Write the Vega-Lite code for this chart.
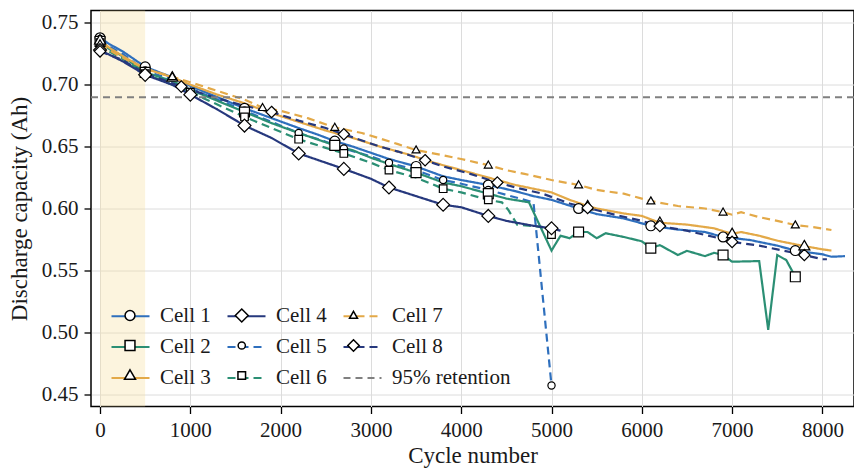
{
  "$schema": "https://vega.github.io/schema/vega-lite/v6.json",
  "width": 763,
  "height": 396,
  "autosize": "none",
  "padding": {"left": 91, "top": 10.5, "right": 0, "bottom": 63.5},
  "background": "white",
  "config": {
    "font": "Liberation Serif",
    "view": {"stroke": "black", "strokeWidth": 1.5},
    "axis": {
      "domain": false, "grid": true, "gridColor": "#dcdcdc", "gridWidth": 1,
      "tickColor": "black", "tickWidth": 1.3, "tickSize": 7,
      "labelFont": "Liberation Serif", "labelFontSize": 21, "labelColor": "#1a1a1a",
      "titleFont": "Liberation Serif", "titleFontSize": 23, "titleFontWeight": "normal", "titleColor": "#1a1a1a",
      "labelPadding": 6
    }
  },
  "datasets": {
    "cells": [
      {"cell":"Cell 1","cycle":0,"cap":0.738,"m":1},{"cell":"Cell 1","cycle":100,"cap":0.733},{"cell":"Cell 1","cycle":250,"cap":0.727},{"cell":"Cell 1","cycle":500,"cap":0.7145,"m":1},{"cell":"Cell 1","cycle":800,"cap":0.706},{"cell":"Cell 1","cycle":1000,"cap":0.699},{"cell":"Cell 1","cycle":1300,"cap":0.690},{"cell":"Cell 1","cycle":1600,"cap":0.681,"m":1},{"cell":"Cell 1","cycle":1900,"cap":0.673},{"cell":"Cell 1","cycle":2200,"cap":0.665},{"cell":"Cell 1","cycle":2400,"cap":0.660},{"cell":"Cell 1","cycle":2600,"cap":0.6545,"m":1},{"cell":"Cell 1","cycle":2800,"cap":0.650},{"cell":"Cell 1","cycle":3000,"cap":0.645},{"cell":"Cell 1","cycle":3200,"cap":0.640},{"cell":"Cell 1","cycle":3500,"cap":0.634,"m":1},{"cell":"Cell 1","cycle":3800,"cap":0.626},{"cell":"Cell 1","cycle":4000,"cap":0.623},{"cell":"Cell 1","cycle":4300,"cap":0.619,"m":1},{"cell":"Cell 1","cycle":4600,"cap":0.614},{"cell":"Cell 1","cycle":4800,"cap":0.610},{"cell":"Cell 1","cycle":5000,"cap":0.607},{"cell":"Cell 1","cycle":5300,"cap":0.600,"m":1},{"cell":"Cell 1","cycle":5500,"cap":0.5955},{"cell":"Cell 1","cycle":5800,"cap":0.592},{"cell":"Cell 1","cycle":6100,"cap":0.586,"m":1},{"cell":"Cell 1","cycle":6400,"cap":0.583},{"cell":"Cell 1","cycle":6700,"cap":0.581},{"cell":"Cell 1","cycle":6900,"cap":0.577,"m":1},{"cell":"Cell 1","cycle":7200,"cap":0.5745},{"cell":"Cell 1","cycle":7500,"cap":0.570},{"cell":"Cell 1","cycle":7700,"cap":0.566,"m":1},{"cell":"Cell 1","cycle":8000,"cap":0.563},{"cell":"Cell 1","cycle":8100,"cap":0.561},{"cell":"Cell 1","cycle":8250,"cap":0.5615},

      {"cell":"Cell 5","cycle":0,"cap":0.737,"m":1},{"cell":"Cell 5","cycle":100,"cap":0.731},{"cell":"Cell 5","cycle":250,"cap":0.725},{"cell":"Cell 5","cycle":500,"cap":0.7115,"m":1},{"cell":"Cell 5","cycle":800,"cap":0.704},{"cell":"Cell 5","cycle":1000,"cap":0.697},{"cell":"Cell 5","cycle":1300,"cap":0.688},{"cell":"Cell 5","cycle":1600,"cap":0.679,"m":1},{"cell":"Cell 5","cycle":1900,"cap":0.670},{"cell":"Cell 5","cycle":2200,"cap":0.661,"m":1},{"cell":"Cell 5","cycle":2500,"cap":0.654},{"cell":"Cell 5","cycle":2700,"cap":0.6485,"m":1},{"cell":"Cell 5","cycle":3000,"cap":0.642},{"cell":"Cell 5","cycle":3200,"cap":0.637,"m":1},{"cell":"Cell 5","cycle":3500,"cap":0.631},{"cell":"Cell 5","cycle":3800,"cap":0.623,"m":1},{"cell":"Cell 5","cycle":4000,"cap":0.620},{"cell":"Cell 5","cycle":4300,"cap":0.615,"m":1},{"cell":"Cell 5","cycle":4500,"cap":0.611},{"cell":"Cell 5","cycle":4800,"cap":0.605},{"cell":"Cell 5","cycle":5000,"cap":0.457,"m":1},

      {"cell":"Cell 2","cycle":0,"cap":0.735,"m":1},{"cell":"Cell 2","cycle":100,"cap":0.729},{"cell":"Cell 2","cycle":250,"cap":0.723},{"cell":"Cell 2","cycle":500,"cap":0.710,"m":1},{"cell":"Cell 2","cycle":800,"cap":0.703},{"cell":"Cell 2","cycle":1000,"cap":0.696},{"cell":"Cell 2","cycle":1300,"cap":0.687},{"cell":"Cell 2","cycle":1600,"cap":0.678,"m":1},{"cell":"Cell 2","cycle":1900,"cap":0.669},{"cell":"Cell 2","cycle":2200,"cap":0.661},{"cell":"Cell 2","cycle":2400,"cap":0.656},{"cell":"Cell 2","cycle":2600,"cap":0.651,"m":1},{"cell":"Cell 2","cycle":2800,"cap":0.647},{"cell":"Cell 2","cycle":3000,"cap":0.641},{"cell":"Cell 2","cycle":3200,"cap":0.636},{"cell":"Cell 2","cycle":3500,"cap":0.629,"m":1},{"cell":"Cell 2","cycle":3800,"cap":0.621},{"cell":"Cell 2","cycle":4000,"cap":0.618},{"cell":"Cell 2","cycle":4300,"cap":0.612,"m":1},{"cell":"Cell 2","cycle":4500,"cap":0.608},{"cell":"Cell 2","cycle":4750,"cap":0.605},{"cell":"Cell 2","cycle":5000,"cap":0.566},{"cell":"Cell 2","cycle":5100,"cap":0.578},{"cell":"Cell 2","cycle":5200,"cap":0.576},{"cell":"Cell 2","cycle":5300,"cap":0.581,"m":1},{"cell":"Cell 2","cycle":5400,"cap":0.581},{"cell":"Cell 2","cycle":5500,"cap":0.576},{"cell":"Cell 2","cycle":5600,"cap":0.580},{"cell":"Cell 2","cycle":5800,"cap":0.577},{"cell":"Cell 2","cycle":6000,"cap":0.5735},{"cell":"Cell 2","cycle":6100,"cap":0.568,"m":1},{"cell":"Cell 2","cycle":6200,"cap":0.5704},{"cell":"Cell 2","cycle":6400,"cap":0.5624},{"cell":"Cell 2","cycle":6500,"cap":0.5658},{"cell":"Cell 2","cycle":6700,"cap":0.5615},{"cell":"Cell 2","cycle":6800,"cap":0.5642},{"cell":"Cell 2","cycle":6900,"cap":0.5624,"m":1},{"cell":"Cell 2","cycle":7000,"cap":0.557},{"cell":"Cell 2","cycle":7300,"cap":0.5575},{"cell":"Cell 2","cycle":7400,"cap":0.502},{"cell":"Cell 2","cycle":7500,"cap":0.5624},{"cell":"Cell 2","cycle":7600,"cap":0.5583},{"cell":"Cell 2","cycle":7700,"cap":0.5448,"m":1},

      {"cell":"Cell 6","cycle":0,"cap":0.734,"m":1},{"cell":"Cell 6","cycle":100,"cap":0.727},{"cell":"Cell 6","cycle":250,"cap":0.721},{"cell":"Cell 6","cycle":500,"cap":0.709,"m":1},{"cell":"Cell 6","cycle":800,"cap":0.700},{"cell":"Cell 6","cycle":1000,"cap":0.694,"m":1},{"cell":"Cell 6","cycle":1300,"cap":0.684},{"cell":"Cell 6","cycle":1600,"cap":0.674,"m":1},{"cell":"Cell 6","cycle":1900,"cap":0.665},{"cell":"Cell 6","cycle":2200,"cap":0.656,"m":1},{"cell":"Cell 6","cycle":2500,"cap":0.649},{"cell":"Cell 6","cycle":2700,"cap":0.6445,"m":1},{"cell":"Cell 6","cycle":3000,"cap":0.637},{"cell":"Cell 6","cycle":3200,"cap":0.631,"m":1},{"cell":"Cell 6","cycle":3500,"cap":0.625},{"cell":"Cell 6","cycle":3800,"cap":0.616,"m":1},{"cell":"Cell 6","cycle":4000,"cap":0.613},{"cell":"Cell 6","cycle":4300,"cap":0.607,"m":1},{"cell":"Cell 6","cycle":4450,"cap":0.605},{"cell":"Cell 6","cycle":4520,"cap":0.599},{"cell":"Cell 6","cycle":4620,"cap":0.587},{"cell":"Cell 6","cycle":4900,"cap":0.585},{"cell":"Cell 6","cycle":5000,"cap":0.579,"m":1},

      {"cell":"Cell 3","cycle":0,"cap":0.736,"m":1},{"cell":"Cell 3","cycle":100,"cap":0.730},{"cell":"Cell 3","cycle":300,"cap":0.721},{"cell":"Cell 3","cycle":500,"cap":0.713},{"cell":"Cell 3","cycle":800,"cap":0.706,"m":1},{"cell":"Cell 3","cycle":1000,"cap":0.700},{"cell":"Cell 3","cycle":1300,"cap":0.692},{"cell":"Cell 3","cycle":1600,"cap":0.685},{"cell":"Cell 3","cycle":1900,"cap":0.677},{"cell":"Cell 3","cycle":2200,"cap":0.670},{"cell":"Cell 3","cycle":2500,"cap":0.663},{"cell":"Cell 3","cycle":2800,"cap":0.657},{"cell":"Cell 3","cycle":3100,"cap":0.650},{"cell":"Cell 3","cycle":3400,"cap":0.644},{"cell":"Cell 3","cycle":3700,"cap":0.637},{"cell":"Cell 3","cycle":4000,"cap":0.631},{"cell":"Cell 3","cycle":4300,"cap":0.625},{"cell":"Cell 3","cycle":4600,"cap":0.619},{"cell":"Cell 3","cycle":5000,"cap":0.613},{"cell":"Cell 3","cycle":5200,"cap":0.607},{"cell":"Cell 3","cycle":5400,"cap":0.602,"m":1},{"cell":"Cell 3","cycle":5500,"cap":0.600},{"cell":"Cell 3","cycle":5800,"cap":0.596},{"cell":"Cell 3","cycle":6000,"cap":0.594},{"cell":"Cell 3","cycle":6200,"cap":0.5885,"m":1},{"cell":"Cell 3","cycle":6500,"cap":0.587},{"cell":"Cell 3","cycle":6800,"cap":0.584},{"cell":"Cell 3","cycle":7000,"cap":0.5795,"m":1},{"cell":"Cell 3","cycle":7100,"cap":0.581},{"cell":"Cell 3","cycle":7300,"cap":0.578},{"cell":"Cell 3","cycle":7500,"cap":0.574},{"cell":"Cell 3","cycle":7800,"cap":0.5696,"m":1},{"cell":"Cell 3","cycle":8000,"cap":0.567},{"cell":"Cell 3","cycle":8100,"cap":0.566},

      {"cell":"Cell 7","cycle":0,"cap":0.733,"m":1},{"cell":"Cell 7","cycle":100,"cap":0.728},{"cell":"Cell 7","cycle":300,"cap":0.720},{"cell":"Cell 7","cycle":500,"cap":0.713},{"cell":"Cell 7","cycle":800,"cap":0.7065,"m":1},{"cell":"Cell 7","cycle":1000,"cap":0.702},{"cell":"Cell 7","cycle":1300,"cap":0.695},{"cell":"Cell 7","cycle":1600,"cap":0.688},{"cell":"Cell 7","cycle":1800,"cap":0.6815,"m":1},{"cell":"Cell 7","cycle":2000,"cap":0.679},{"cell":"Cell 7","cycle":2300,"cap":0.673},{"cell":"Cell 7","cycle":2600,"cap":0.6655,"m":1},{"cell":"Cell 7","cycle":2900,"cap":0.661},{"cell":"Cell 7","cycle":3100,"cap":0.6566},{"cell":"Cell 7","cycle":3300,"cap":0.652},{"cell":"Cell 7","cycle":3500,"cap":0.6472,"m":1},{"cell":"Cell 7","cycle":3800,"cap":0.643},{"cell":"Cell 7","cycle":4000,"cap":0.640},{"cell":"Cell 7","cycle":4300,"cap":0.635,"m":1},{"cell":"Cell 7","cycle":4500,"cap":0.631},{"cell":"Cell 7","cycle":4700,"cap":0.628},{"cell":"Cell 7","cycle":5000,"cap":0.623},{"cell":"Cell 7","cycle":5300,"cap":0.619,"m":1},{"cell":"Cell 7","cycle":5500,"cap":0.615},{"cell":"Cell 7","cycle":5800,"cap":0.612},{"cell":"Cell 7","cycle":6100,"cap":0.606,"m":1},{"cell":"Cell 7","cycle":6400,"cap":0.602},{"cell":"Cell 7","cycle":6700,"cap":0.600},{"cell":"Cell 7","cycle":6900,"cap":0.597,"m":1},{"cell":"Cell 7","cycle":7000,"cap":0.595},{"cell":"Cell 7","cycle":7100,"cap":0.597},{"cell":"Cell 7","cycle":7300,"cap":0.593},{"cell":"Cell 7","cycle":7500,"cap":0.590},{"cell":"Cell 7","cycle":7700,"cap":0.5866,"m":1},{"cell":"Cell 7","cycle":7900,"cap":0.585},{"cell":"Cell 7","cycle":8100,"cap":0.5826},

      {"cell":"Cell 4","cycle":0,"cap":0.728,"m":1},{"cell":"Cell 4","cycle":250,"cap":0.719},{"cell":"Cell 4","cycle":500,"cap":0.708,"m":1},{"cell":"Cell 4","cycle":800,"cap":0.700},{"cell":"Cell 4","cycle":1000,"cap":0.692,"m":1},{"cell":"Cell 4","cycle":1300,"cap":0.680},{"cell":"Cell 4","cycle":1600,"cap":0.667,"m":1},{"cell":"Cell 4","cycle":1900,"cap":0.657},{"cell":"Cell 4","cycle":2200,"cap":0.6445,"m":1},{"cell":"Cell 4","cycle":2500,"cap":0.637},{"cell":"Cell 4","cycle":2700,"cap":0.632,"m":1},{"cell":"Cell 4","cycle":3000,"cap":0.624},{"cell":"Cell 4","cycle":3200,"cap":0.617,"m":1},{"cell":"Cell 4","cycle":3500,"cap":0.610},{"cell":"Cell 4","cycle":3800,"cap":0.603,"m":1},{"cell":"Cell 4","cycle":4000,"cap":0.601},{"cell":"Cell 4","cycle":4300,"cap":0.594,"m":1},{"cell":"Cell 4","cycle":4500,"cap":0.590},{"cell":"Cell 4","cycle":4800,"cap":0.586},{"cell":"Cell 4","cycle":5000,"cap":0.584,"m":1},{"cell":"Cell 4","cycle":5100,"cap":0.582},

      {"cell":"Cell 8","cycle":0,"cap":0.727,"m":1},{"cell":"Cell 8","cycle":250,"cap":0.720},{"cell":"Cell 8","cycle":500,"cap":0.709},{"cell":"Cell 8","cycle":700,"cap":0.704},{"cell":"Cell 8","cycle":900,"cap":0.6985,"m":1},{"cell":"Cell 8","cycle":1000,"cap":0.696},{"cell":"Cell 8","cycle":1300,"cap":0.689},{"cell":"Cell 8","cycle":1600,"cap":0.683},{"cell":"Cell 8","cycle":1900,"cap":0.678,"m":1},{"cell":"Cell 8","cycle":2200,"cap":0.671},{"cell":"Cell 8","cycle":2500,"cap":0.665},{"cell":"Cell 8","cycle":2700,"cap":0.660,"m":1},{"cell":"Cell 8","cycle":2900,"cap":0.655},{"cell":"Cell 8","cycle":3100,"cap":0.650},{"cell":"Cell 8","cycle":3300,"cap":0.646},{"cell":"Cell 8","cycle":3600,"cap":0.639,"m":1},{"cell":"Cell 8","cycle":3800,"cap":0.634},{"cell":"Cell 8","cycle":4100,"cap":0.628},{"cell":"Cell 8","cycle":4400,"cap":0.621,"m":1},{"cell":"Cell 8","cycle":4600,"cap":0.617},{"cell":"Cell 8","cycle":4900,"cap":0.612},{"cell":"Cell 8","cycle":5200,"cap":0.604},{"cell":"Cell 8","cycle":5400,"cap":0.6005,"m":1},{"cell":"Cell 8","cycle":5700,"cap":0.595},{"cell":"Cell 8","cycle":6000,"cap":0.590},{"cell":"Cell 8","cycle":6200,"cap":0.5858,"m":1},{"cell":"Cell 8","cycle":6500,"cap":0.582},{"cell":"Cell 8","cycle":6800,"cap":0.577},{"cell":"Cell 8","cycle":7000,"cap":0.573,"m":1},{"cell":"Cell 8","cycle":7300,"cap":0.570},{"cell":"Cell 8","cycle":7500,"cap":0.567},{"cell":"Cell 8","cycle":7800,"cap":0.5624,"m":1},{"cell":"Cell 8","cycle":8000,"cap":0.559},{"cell":"Cell 8","cycle":8050,"cap":0.559}
    ]
  },
  "layer": [
    {
      "data": {"values": [{"cycle": 0, "cycle_end": 500}]},
      "mark": {"type": "rect", "fill": "#f5dfa0", "opacity": 0.35},
      "encoding": {
        "x": {"field": "cycle", "type": "quantitative", "scale": {"domain": [-100, 8350], "nice": false, "zero": false}, "title": "Cycle number",
              "axis": {"values": [0,1000,2000,3000,4000,5000,6000,7000,8000], "format": "d", "titlePadding": 4}},
        "x2": {"field": "cycle_end"}
      }
    },
    {
      "data": {"name": "cells"},
      "mark": {"type": "line", "strokeWidth": 2.2},
      "encoding": {
        "x": {"field": "cycle", "type": "quantitative", "scale": {"domain": [-100, 8350], "nice": false, "zero": false}, "title": "Cycle number",
              "axis": {"values": [0,1000,2000,3000,4000,5000,6000,7000,8000], "format": "d", "titlePadding": 4}},
        "y": {"field": "cap", "type": "quantitative", "scale": {"domain": [0.44, 0.76], "nice": false, "zero": false}, "title": "Discharge capacity (Ah)",
              "axis": {"values": [0.45,0.5,0.55,0.6,0.65,0.7,0.75], "format": ".2f", "titlePadding": 10}},
        "color": {"field": "cell", "type": "nominal",
          "scale": {"domain": ["Cell 1","Cell 2","Cell 3","Cell 4","Cell 5","Cell 6","Cell 7","Cell 8","95% retention"],
                    "range": ["#2e6fbd","#2b8f74","#e3a948","#26387d","#2e6fbd","#2b8f74","#e3a948","#26387d","#808080"]},
          "legend": {"orient": "none", "legendX": 19, "legendY": 285, "columns": 3, "title": null, "symbolType": "stroke", "symbolSize": 1444,
                     "symbolStrokeWidth": 2.2, "labelFont": "Liberation Serif", "labelFontSize": 21, "labelColor": "#1a1a1a", "labelOffset": 9,
                     "columnPadding": 12, "rowPadding": -2, "padding": 0, "labelLimit": 300}},
        "strokeDash": {"field": "cell", "type": "nominal",
          "scale": {"domain": ["Cell 1","Cell 2","Cell 3","Cell 4","Cell 5","Cell 6","Cell 7","Cell 8","95% retention"],
                    "range": [[1,0],[1,0],[1,0],[1,0],[8,5],[8,5],[8,5],[8,5],[7,5]]}}
      }
    },
    {
      "data": {"values": [{"cell": "95% retention", "cap": 0.69}]},
      "mark": {"type": "rule", "strokeWidth": 2},
      "encoding": {
        "y": {"field": "cap", "type": "quantitative"},
        "color": {"field": "cell", "type": "nominal",
          "scale": {"domain": ["Cell 1","Cell 2","Cell 3","Cell 4","Cell 5","Cell 6","Cell 7","Cell 8","95% retention"]}},
        "strokeDash": {"field": "cell", "type": "nominal",
          "scale": {"domain": ["Cell 1","Cell 2","Cell 3","Cell 4","Cell 5","Cell 6","Cell 7","Cell 8","95% retention"]}}
      }
    },
    {
      "data": {"name": "cells"},
      "transform": [{"filter": "datum.m == 1"}],
      "mark": {"type": "point", "filled": true, "fill": "white", "stroke": "black", "strokeWidth": 1.2, "size": 1444, "opacity": 1},
      "encoding": {
        "x": {"field": "cycle", "type": "quantitative"},
        "y": {"field": "cap", "type": "quantitative"},
        "shape": {"field": "cell", "type": "nominal",
          "scale": {"domain": ["Cell 1","Cell 2","Cell 3","Cell 4","Cell 5","Cell 6","Cell 7","Cell 8"],
                    "range": [
                      "M0.26,0A0.26,0.26,0,1,1,-0.26,0A0.26,0.26,0,1,1,0.26,0Z",
                      "M-0.26,-0.26H0.26V0.26H-0.26Z",
                      "M0,-0.3L0.29,0.2H-0.29Z",
                      "M0,-0.34L0.34,0L0,0.34L-0.34,0Z",
                      "M0.19,0A0.19,0.19,0,1,1,-0.19,0A0.19,0.19,0,1,1,0.19,0Z",
                      "M-0.2,-0.2H0.2V0.2H-0.2Z",
                      "M0,-0.22L0.21,0.15H-0.21Z",
                      "M0,-0.3L0.3,0L0,0.3L-0.3,0Z"
                    ]},
          "legend": {"orient": "none", "legendX": 19, "legendY": 285, "columns": 3, "title": null, "symbolSize": 1444,
                     "labelFont": "Liberation Serif", "labelFontSize": 21, "labelColor": "transparent", "labelOffset": 9,
                     "labelExpr": "''",
                     "columnPadding": 62.75, "rowPadding": -2, "padding": 0, "labelLimit": 300,
                     "encode": {"symbols": {"stroke": {"value": "black"}, "strokeWidth": {"value": 1.2}, "fill": {"value": "white"}, "opacity": {"value": 1}, "fillOpacity": {"value": 1}, "strokeOpacity": {"value": 1}}}}}
      }
    }
  ]
}
